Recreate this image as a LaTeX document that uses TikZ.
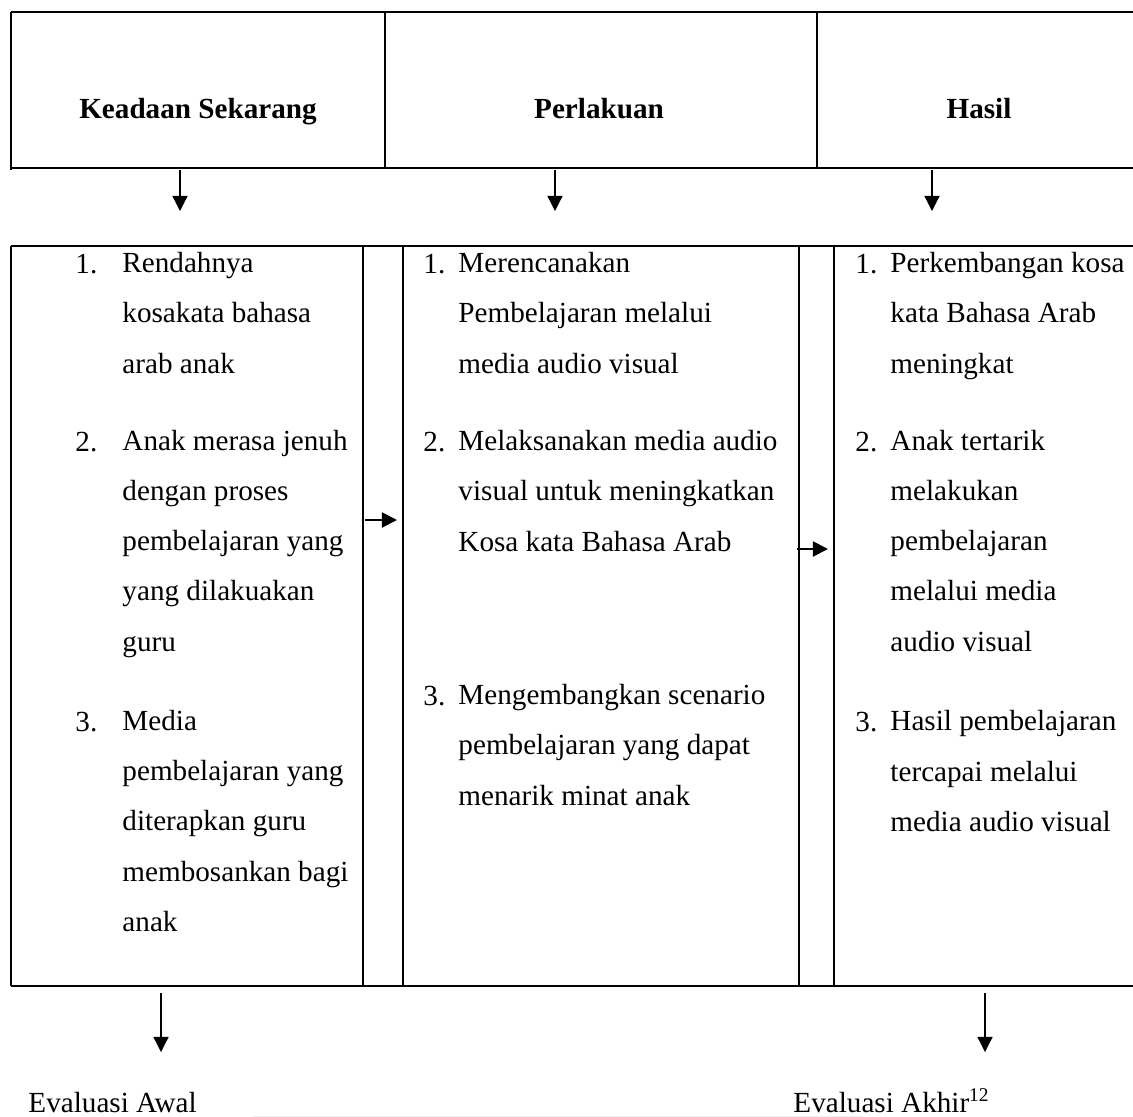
\documentclass[tikz,border=0pt]{standalone}
\usepackage{fontspec}
\setmainfont{Liberation Serif}
\usetikzlibrary{arrows.meta, positioning}

\begin{document}
\begin{tikzpicture}[
    x=0.4115pt, y=-0.4115pt,
    frame/.style={line width=0.6pt},
    head/.style={font=\fontsize{12}{14}\selectfont\bfseries, inner sep=0pt, anchor=base},
    num/.style={font=\fontsize{12}{14}\selectfont, inner sep=0pt, anchor=base west},
    item/.style={font=\fontsize{12}{20.58}\selectfont, inner sep=0pt, anchor=base west, align=left},
    flow/.style={-{Triangle[width=6.2pt,length=6.2pt]}, line width=0.5pt},
    foot/.style={font=\fontsize{12}{14}\selectfont, inner sep=0pt, anchor=base west}
]
\useasboundingbox (0,0) rectangle (1133,1117);

% --- 1. HEADER ROW (Top) ---
\draw[frame] (11,12) -- (1133,12);
\draw[frame] (11,168) -- (1133,168);
\draw[frame] (11,12) -- (11,170);
\draw[frame] (385,12) -- (385,168);
\draw[frame] (817,12) -- (817,168);

\node[head] (keadaan) at (198,118) {Keadaan Sekarang};
\node[head] (perlakuan) at (599,118) {Perlakuan};
\node[head] (hasil) at (979,118) {Hasil};

% arrows down into the content row
\coordinate (k_out) at (180,170);   \coordinate (k_in) at (180,211);
\coordinate (p_out) at (555,170);   \coordinate (p_in) at (555,211);
\coordinate (h_out) at (932,170);   \coordinate (h_in) at (932,211);
\draw[flow] (k_out) -- (k_in);
\draw[flow] (p_out) -- (p_in);
\draw[flow] (h_out) -- (h_in);

% --- 2. CONTENT ROW ---
\draw[frame] (11,246) -- (1133,246);
\draw[frame, line width=0.8pt] (11,986) -- (1133,986);
\draw[frame] (11,246) -- (11,986);
\draw[frame] (363,246) -- (363,986);
\draw[frame] (403,246) -- (403,986);
\draw[frame] (799,246) -- (799,986);
\draw[frame] (834,246) -- (834,986);

% item nodes sit on the baseline of their last line (50px per line)
% Keadaan Sekarang (left column)
\node[num] (k1n) at (75,273) {1.};
\node[item] (k1) at (122,373) {Rendahnya\\kosakata bahasa\\arab anak};
\node[num] (k2n) at (75,451) {2.};
\node[item] (k2) at (122,651) {Anak merasa jenuh\\dengan proses\\pembelajaran yang\\yang dilakuakan\\guru};
\node[num] (k3n) at (75,731) {3.};
\node[item] (k3) at (122,931) {Media\\pembelajaran yang\\diterapkan guru\\membosankan bagi\\anak};

% Perlakuan (middle column)
\node[num] (p1n) at (423,273) {1.};
\node[item] (p1) at (458,373) {Merencanakan\\Pembelajaran melalui\\media audio visual};
\node[num] (p2n) at (423,451) {2.};
\node[item] (p2) at (458,551) {Melaksanakan media audio\\visual untuk meningkatkan\\Kosa kata Bahasa Arab};
\node[num] (p3n) at (423,705) {3.};
\node[item] (p3) at (458,805) {Mengembangkan scenario\\pembelajaran yang dapat\\menarik minat anak};

% Hasil (right column)
\node[num] (h1n) at (855,273) {1.};
\node[item] (h1) at (890,373) {Perkembangan kosa\\kata Bahasa Arab\\meningkat};
\node[num] (h2n) at (855,451) {2.};
\node[item] (h2) at (890,651) {Anak tertarik\\melakukan\\pembelajaran\\melalui media\\audio visual};
\node[num] (h3n) at (855,731) {3.};
\node[item] (h3) at (890,831) {Hasil pembelajaran\\tercapai melalui\\media audio visual};

% arrows between the columns
\coordinate (kp_out) at (365,520);  \coordinate (kp_in) at (397,520);
\coordinate (ph_out) at (797,549);  \coordinate (ph_in) at (828,549);
\draw[flow, line width=0.8pt] (kp_out) -- (kp_in);
\draw[flow, line width=0.8pt] (ph_out) -- (ph_in);

% --- 3. EVALUATION (Bottom) ---
\node[foot] (awal) at (28,1112) {Evaluasi Awal};
\node[foot] (akhir) at (793,1112) {Evaluasi Akhir\textsuperscript{12}};

\coordinate (a_out) at (161,993);   \coordinate (a_in) at (161,1052);
\coordinate (b_out) at (985,993);   \coordinate (b_in) at (985,1052);
\draw[flow] (a_out) -- (a_in);
\draw[flow] (b_out) -- (b_in);

% faint page line
\draw[gray!12] (253,1116) -- (863,1116);

\end{tikzpicture}
\end{document}
